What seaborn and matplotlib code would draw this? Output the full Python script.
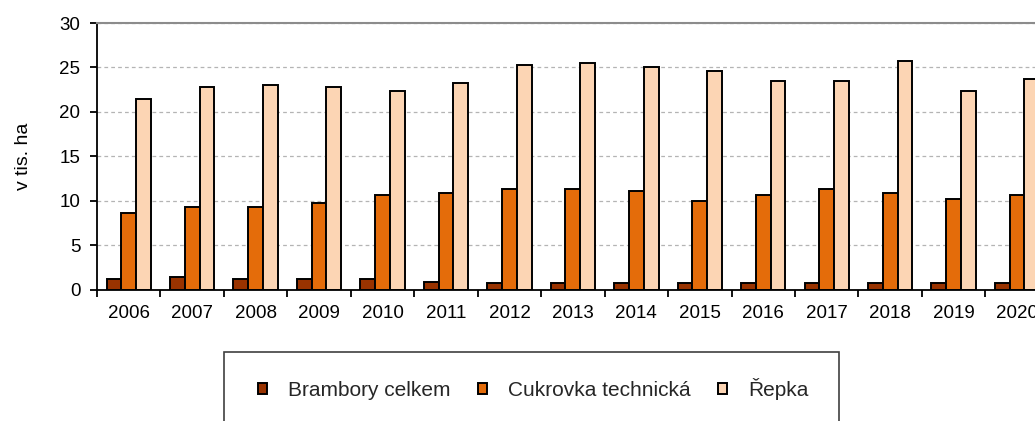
import matplotlib
matplotlib.use("Agg")
import matplotlib.pyplot as plt
from matplotlib.patches import Rectangle
from matplotlib.ticker import FixedLocator
import seaborn as sns
import pandas as pd

years = ["2006", "2007", "2008", "2009", "2010", "2011", "2012", "2013",
         "2014", "2015", "2016", "2017", "2018", "2019", "2020"]
brambory = [1.13, 1.39, 1.13, 1.13, 1.13, 0.86, 0.68, 0.68, 0.68, 0.68, 0.68, 0.68, 0.68, 0.68, 0.68]
cukrovka = [8.57, 9.24, 9.24, 9.69, 10.60, 10.82, 11.27, 11.27, 11.05, 9.92, 10.60, 11.27, 10.82, 10.15, 10.60]
repka = [21.46, 22.77, 23.00, 22.77, 22.36, 23.26, 25.25, 25.50, 25.00, 24.60, 23.50, 23.50, 25.70, 22.36, 23.70]
series_names = ["Brambory celkem", "Cukrovka technická", "Řepka"]
colors = ["#993300", "#E46C0A", "#FCD5B4"]
ylabel = "v tis. ha"
yticks = [0, 5, 10, 15, 20, 25, 30]

rows = []
for name, vals in zip(series_names, [brambory, cukrovka, repka]):
    for y, v in zip(years, vals):
        rows.append({"rok": y, "plodina": name, "hodnota": v})
df = pd.DataFrame(rows)

sns.set_style("white")
plt.rcParams["font.family"] = ["Liberation Sans", "DejaVu Sans"]

fig = plt.figure(figsize=(10.35, 4.21), dpi=100)
ax = fig.add_axes([97 / 1035, (421 - 289.5) / 421, 951.8 / 1035, 266.5 / 421])

sns.barplot(data=df, x="rok", y="hodnota", hue="plodina", order=years,
            hue_order=series_names, palette=dict(zip(series_names, colors)),
            saturation=1, width=0.7, edgecolor="black", linewidth=1.4,
            errorbar=None, ax=ax, legend=True)

ax.set_xlim(-0.5, len(years) - 0.5)
ax.set_ylim(0, 30)
ax.set_yticks(yticks)
ax.set_yticklabels([str(t) for t in yticks])
ax.yaxis.grid(True, color="#B4B4B4", linestyle=(0, (3, 2.5)), linewidth=0.9)
ax.set_axisbelow(True)

ax.spines["right"].set_visible(False)
ax.spines["top"].set_color("#8C8C8C")
ax.spines["top"].set_linewidth(1.5)
ax.spines["left"].set_color("black")
ax.spines["left"].set_linewidth(1.3)
ax.spines["bottom"].set_color("black")
ax.spines["bottom"].set_linewidth(1.3)

ax.xaxis.set_minor_locator(FixedLocator([i - 0.5 for i in range(len(years) + 1)]))
ax.tick_params(axis="x", which="major", length=0, pad=11, labelsize=13.5, labelcolor="black")
ax.tick_params(axis="x", which="minor", length=5, width=1.3, color="black", direction="out", bottom=True)
ax.tick_params(axis="y", which="major", length=5, width=1.3, color="black", direction="out", left=True,
               pad=7, labelsize=13.5, labelcolor="black")
ax.set_xlabel("")
ax.set_ylabel(ylabel, fontsize=14, color="black", labelpad=20)

handles, labels = ax.get_legend_handles_labels()
ax.get_legend().remove()
fig.legend(handles, labels, loc="center", bbox_to_anchor=(533 / 1035, (421 - 389) / 421),
           ncol=3, frameon=False, fontsize=15, handlelength=0.45, handleheight=0.45,
           handletextpad=1.0, columnspacing=1.3)

fig.patches.append(Rectangle((224 / 1035, -0.2), 615 / 1035, 0.2 + (421 - 352) / 421,
                             transform=fig.transFigure, fill=False,
                             edgecolor="#404040", linewidth=1.2))

fig.savefig("out.png", dpi=100)
